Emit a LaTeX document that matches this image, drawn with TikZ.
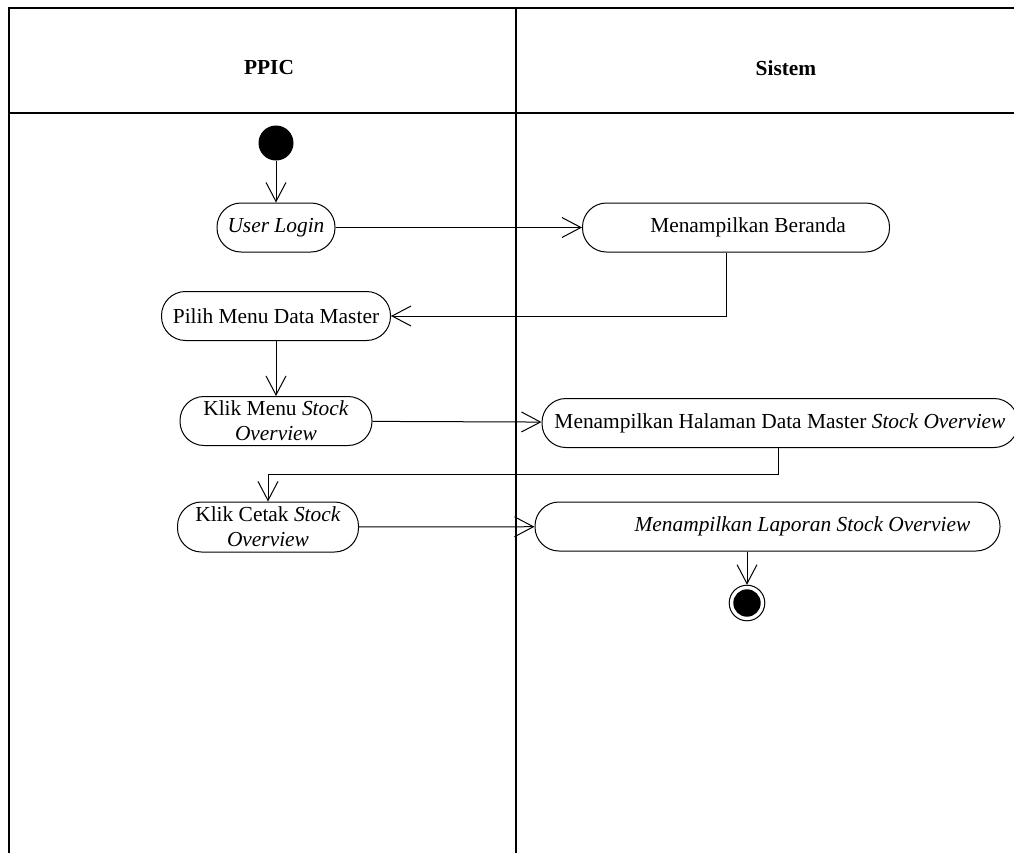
\documentclass[tikz,border=0pt]{standalone}
\usepackage{fontspec}
\setmainfont{Liberation Serif}
\usetikzlibrary{
    arrows.meta,
    positioning
}

\begin{document}
\begin{tikzpicture}[x=0.5pt, y=-0.5pt,
    font=\fontsize{10.7}{12.5}\selectfont,
    act/.style={draw, rectangle, rounded corners=12pt, line width=0.5pt,
        inner sep=1pt, minimum height=24.5pt, align=center},
    flow/.style={-{Straight Barb[length=9.5pt, width=10pt]}, line width=0.5pt},
    lane/.style={line width=0.7pt},
    lanetitle/.style={font=\fontsize{10.7}{12.5}\selectfont\bfseries}]
    \useasboundingbox (0,0) rectangle (1014,853);

    \draw[lane] (9,853) -- (9,8) -- (1014,8);
    \draw[lane] (516,8) -- (516,853);
    \draw[lane] (9,113) -- (1014,113);
    \node[lanetitle] (ppic) at (269,68) {PPIC};
    \node[lanetitle] (sistem) at (786,68) {Sistem};

    \node[circle, fill, minimum size=17.5pt, inner sep=0pt] (start) at (276,143) {};
    \node[act, minimum width=59pt] (login) at (276,227.5) {\textit{User Login}};
    \node[act, minimum width=153.5pt] (beranda) at (736,227.5) {\hspace*{12pt}Menampilkan Beranda};
    \node[act, minimum width=114.5pt] (pilih) at (276,316) {Pilih Menu Data Master};
    \node[act, minimum width=96pt] (klikmenu) at (276,421) {Klik Menu \textit{Stock}\\\textit{Overview}};
    \node[act, minimum width=238pt] (halaman) at (780,423) {Menampilkan Halaman Data Master \textit{Stock Overview}};
    \node[act, minimum width=90.5pt, minimum height=25pt] (cetak) at (268,527) {Klik Cetak \textit{Stock}\\\textit{Overview}};
    \node[act, minimum width=232.5pt] (laporan) at (767.5,526.5) {\hspace*{35pt}\textit{Menampilkan Laporan Stock Overview}};
    \node[circle, draw, line width=0.5pt, minimum size=17.8pt, inner sep=0pt,
        path picture={\fill (path picture bounding box.center) circle (6.85pt);}] (end) at (747,603) {};

    \draw[flow] (start) -- (login);
    \draw[flow] (login) -- (beranda);
    \draw[flow] ([xshift=-5pt]beranda.south) |- (pilih);
    \draw[flow] (pilih) -- (klikmenu);
    \draw[flow] (klikmenu) -- (halaman);
    \draw[flow] ([xshift=-1pt]halaman.south) -- ++(0,26) -| (cetak);
    \draw[flow] (cetak) -- (laporan);
    \draw[flow] (laporan.south -| end) -- (end);
\end{tikzpicture}
\end{document}
